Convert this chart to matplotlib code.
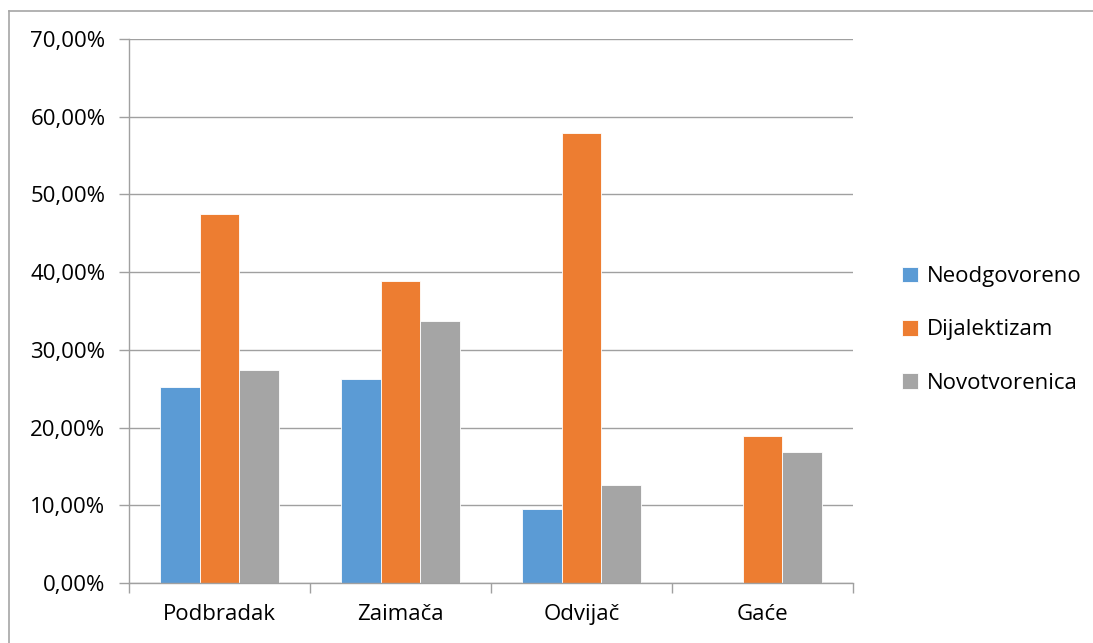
import matplotlib.pyplot as plt
import numpy as np
from matplotlib.lines import Line2D
from matplotlib.ticker import FuncFormatter

plt.rcParams['font.family'] = ['Open Sans', 'DejaVu Sans']

categories = ['Podbradak', 'Zaimača', 'Odvijač', 'Gaće']
neodgovoreno = [25.2, 26.3, 9.5, 0.0]
dijalektizam = [47.5, 38.9, 57.9, 18.9]
novotvorenica = [27.4, 33.7, 12.6, 16.9]

series = [('Neodgovoreno', neodgovoreno, '#5b9bd5'),
          ('Dijalektizam', dijalektizam, '#ed7d31'),
          ('Novotvorenica', novotvorenica, '#a5a5a5')]

W, H = 1093, 643
fig = plt.figure(figsize=(W / 100, H / 100), dpi=100)
ax = fig.add_axes([129 / W, 1 - 583 / H, (853 - 129) / W, (583 - 39) / H])

# outer chart border (only top and left visible)
bx, by = 8.5 / W, 1 - 10.5 / H
fig.lines.append(Line2D([bx, 1.0], [by, by], transform=fig.transFigure, color='#a6a6a6', linewidth=1.2))
fig.lines.append(Line2D([bx, bx], [0.0, by], transform=fig.transFigure, color='#a6a6a6', linewidth=1.2))

x = np.arange(len(categories))
width = 0.22
for k, (name, vals, color) in enumerate(series):
    ax.bar(x + (k - 1) * width, vals, width, label=name, color=color,
           edgecolor='white', linewidth=0.6)

ax.set_xlim(-0.5, len(categories) - 0.5)
ax.set_ylim(0, 70)
ax.set_yticks(np.arange(0, 71, 10))
ax.yaxis.set_major_formatter(FuncFormatter(lambda v, p: f'{v:.2f}%'.replace('.', ',')))
ax.yaxis.grid(True, color='#a0a0a0', linewidth=1)
ax.set_axisbelow(True)

ax.set_xticks(x)
ax.set_xticklabels(categories)
ax.set_xticks(np.arange(-0.5, len(categories), 1), minor=True)
ax.tick_params(axis='x', which='major', length=0, pad=15, labelsize=16)
ax.tick_params(axis='x', which='minor', length=7, color='#a0a0a0', width=1)
ax.tick_params(axis='y', length=7, color='#a0a0a0', width=1, pad=10, labelsize=16)

for side in ['top', 'right']:
    ax.spines[side].set_visible(False)
for side in ['left', 'bottom']:
    ax.spines[side].set_color('#a0a0a0')
    ax.spines[side].set_linewidth(1)

ax.legend(loc='center left', bbox_to_anchor=(882 / W, 1 - 330 / H), bbox_transform=fig.transFigure,
          frameon=False, fontsize=16, handlelength=0.7, handleheight=0.7,
          handletextpad=0.4, labelspacing=1.45)

fig.savefig('out.png', dpi=100)
